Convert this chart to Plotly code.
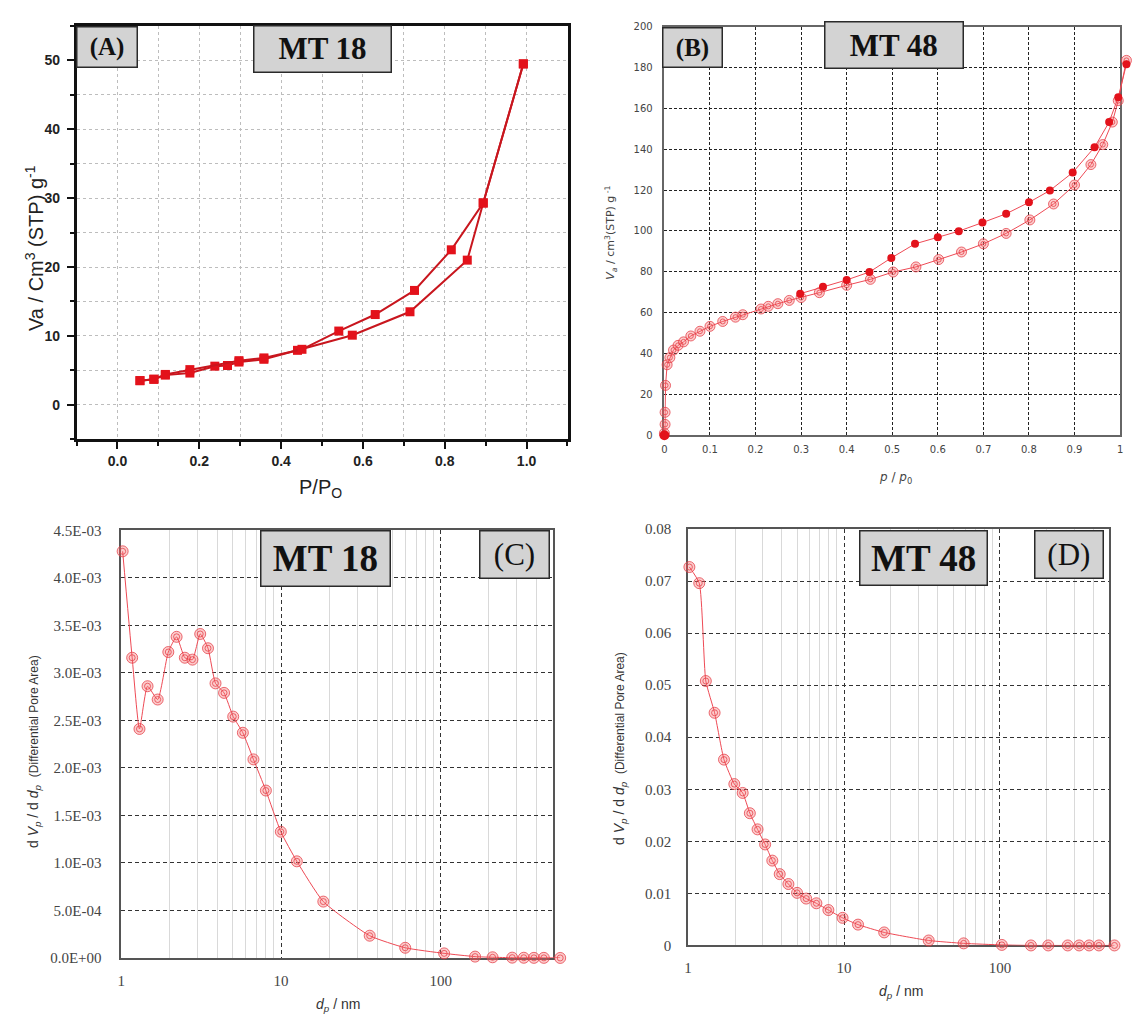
import plotly.graph_objects as go

# ---------------- Panel A : MT 18 N2 isotherm ----------------
a_ads_p = [0.055, 0.089, 0.117, 0.177, 0.238, 0.269, 0.297, 0.358, 0.440, 0.574, 0.715, 0.855, 0.894, 0.992]
a_ads_v = [3.5, 3.7, 4.3, 4.6, 5.6, 5.7, 6.2, 6.6, 7.9, 10.1, 13.5, 21.0, 29.3, 49.5]
a_des_p = [0.992, 0.894, 0.816, 0.726, 0.630, 0.541, 0.451, 0.358, 0.297, 0.177, 0.117, 0.089, 0.055]
a_des_v = [49.5, 29.3, 22.5, 16.6, 13.1, 10.7, 8.05, 6.8, 6.4, 5.1, 4.4, 3.7, 3.5]

# ---------------- Panel B : MT 48 N2 isotherm ----------------
b_ads_p = [0.0, 0.0015, 0.0015, 0.0025, 0.006, 0.012, 0.02, 0.03, 0.042, 0.058, 0.078, 0.10, 0.128,
           0.156, 0.172, 0.212, 0.228, 0.249, 0.274, 0.30, 0.34, 0.40, 0.452, 0.502, 0.552, 0.602,
           0.652, 0.70, 0.75, 0.802, 0.854, 0.90, 0.936, 0.962, 0.983, 0.996, 1.014]
b_ads_v = [1.0, 5.3, 11.2, 24.4, 34.5, 38.0, 41.7, 44.0, 45.7, 48.6, 50.9, 53.3, 55.7,
           57.8, 59.0, 61.8, 63.1, 64.4, 66.0, 67.4, 69.8, 73.4, 76.3, 79.9, 82.4, 86.0,
           89.7, 93.7, 98.8, 105.4, 113.2, 122.5, 132.5, 142.3, 153.3, 163.8, 183.5]
b_des_p = [1.014, 0.996, 0.976, 0.944, 0.896, 0.846, 0.80, 0.75, 0.698, 0.646, 0.60, 0.55,
           0.498, 0.45, 0.40, 0.348, 0.298]
b_des_v = [181.6, 165.5, 153.3, 141.0, 128.6, 119.8, 114.0, 108.4, 104.1, 99.9, 96.9, 93.7,
           86.8, 79.9, 76.0, 72.7, 69.3]
b_start_p = [0.0]
b_start_v = [0.0]

# ---------------- Panel C : MT 18 pore size distribution ----------------
c_dp = [1.02, 1.17, 1.30, 1.46, 1.69, 1.97, 2.22, 2.50, 2.79, 3.12, 3.49, 3.89, 4.40, 5.02, 5.77,
        6.72, 8.04, 9.97, 12.56, 18.4, 35.9, 59.9, 105, 164, 211, 280, 331, 383, 442, 559]
c_dv = [4.28e-3, 3.16e-3, 2.41e-3, 2.86e-3, 2.72e-3, 3.22e-3, 3.38e-3, 3.16e-3, 3.14e-3, 3.41e-3,
        3.26e-3, 2.89e-3, 2.79e-3, 2.54e-3, 2.37e-3, 2.09e-3, 1.762e-3, 1.328e-3, 1.017e-3, 0.593e-3,
        0.234e-3, 0.107e-3, 0.048e-3, 0.014e-3, 0.007e-3, 0.003e-3, 0.002e-3, 0.001e-3, 0.001e-3, 0.0]
c_ytickvals = [0, 0.5e-3, 1.0e-3, 1.5e-3, 2.0e-3, 2.5e-3, 3.0e-3, 3.5e-3, 4.0e-3, 4.5e-3]
c_yticktext = ["0.0E+00", "5.0E-04", "1.0E-03", "1.5E-03", "2.0E-03", "2.5E-03",
               "3.0E-03", "3.5E-03", "4.0E-03", "4.5E-03"]

# ---------------- Panel D : MT 48 pore size distribution ----------------
d_dp = [1.02, 1.18, 1.30, 1.48, 1.70, 1.98, 2.24, 2.49, 2.79, 3.12, 3.47, 3.87, 4.40, 5.0, 5.72,
        6.65, 7.94, 9.79, 12.3, 18.1, 34.9, 58.5, 102.8, 158, 204, 272, 322, 373, 431, 542]
d_dv = [0.0727, 0.0696, 0.0508, 0.0447, 0.0357, 0.0310, 0.0293, 0.0254, 0.0223, 0.0194, 0.0163,
        0.0137, 0.0118, 0.0101, 0.0090, 0.0081, 0.0068, 0.0053, 0.0040, 0.0025, 0.00095, 0.0004,
        0.0001, 0.0, 0.0, 0.0, 0.0, 0.0, 0.0, 0.0]

W, H = 1135, 1025


def px(x):
    return x / W


def py(y):
    return 1 - y / H


# frame pixel positions of the four panels (left, right, top, bottom)
A_L, A_R, A_T, A_B = 73, 567, 18.3, 438
B_L, B_R, B_T, B_B = 664.5, 1123, 19, 434
C_L, C_R, C_T, C_B = 118, 552, 530.7, 965
D_L, D_R, D_T, D_B = 688.3, 1112, 529.3, 952.3

# data axes that reach a little past the frame, so points just beyond it stay visible
B_EXT, C_EXT, D_EXT = 1134, 566, 1126
b_xmax = 1.0 * (B_EXT - B_L) / (B_R - B_L)
c_xmax = 2.7 * (C_EXT - C_L) / (C_R - C_L)
d_xmax = 2.7 * (D_EXT - D_L) / (D_R - D_L)

RED = "#e3121b"
DARKRED = "#c8161e"
PINK_LINE = "#ee4a55"
RING_FILL = "rgba(245,110,110,0.35)"
RING_LINE = "rgba(228,60,70,0.75)"

fig = go.Figure()

# empty placeholder traces so that the framed B, C and D axes get drawn
for xa, ya in (("x2", "y2"), ("x3", "y3"), ("x4", "y4")):
    fig.add_trace(go.Scatter(x=[None], y=[None], mode="markers", xaxis=xa, yaxis=ya,
                             showlegend=False, hoverinfo="skip"))

# Panel A traces
fig.add_trace(go.Scatter(x=a_ads_p, y=a_ads_v, mode="lines+markers", xaxis="x", yaxis="y",
                         line=dict(color=DARKRED, width=2),
                         marker=dict(symbol="square", size=9, color=RED), cliponaxis=False,
                         name="Adsorption MT 18"))
fig.add_trace(go.Scatter(x=a_des_p, y=a_des_v, mode="lines+markers", xaxis="x", yaxis="y",
                         line=dict(color=DARKRED, width=2),
                         marker=dict(symbol="square", size=9, color=RED), cliponaxis=False,
                         name="Desorption MT 18"))

# Panel B traces (data axes x5/y5)
fig.add_trace(go.Scatter(x=b_ads_p, y=b_ads_v, mode="lines+markers", xaxis="x5", yaxis="y5",
                         line=dict(color=PINK_LINE, width=1),
                         marker=dict(symbol="circle", size=10, color=RING_FILL,
                                     line=dict(color=RING_LINE, width=1)),
                         cliponaxis=False, name="Adsorption MT 48"))
fig.add_trace(go.Scatter(x=b_ads_p, y=b_ads_v, mode="markers", xaxis="x5", yaxis="y5",
                         marker=dict(symbol="circle-open", size=5, color=RING_LINE,
                                     line=dict(width=1)),
                         cliponaxis=False, showlegend=False, hoverinfo="skip"))
fig.add_trace(go.Scatter(x=b_des_p, y=b_des_v, mode="lines+markers", xaxis="x5", yaxis="y5",
                         line=dict(color=PINK_LINE, width=1),
                         marker=dict(symbol="circle", size=8, color=RED),
                         cliponaxis=False, name="Desorption MT 48"))
fig.add_trace(go.Scatter(x=b_start_p, y=b_start_v, mode="markers", xaxis="x5", yaxis="y5",
                         marker=dict(symbol="circle", size=10, color=RED),
                         cliponaxis=False, showlegend=False))

# Panel C traces (data axes x6/y6)
fig.add_trace(go.Scatter(x=c_dp, y=c_dv, mode="lines+markers", xaxis="x6", yaxis="y6",
                         line=dict(color=PINK_LINE, width=1, shape="spline", smoothing=0.5),
                         marker=dict(symbol="circle", size=11, color=RING_FILL,
                                     line=dict(color=RING_LINE, width=1)),
                         cliponaxis=False, name="PSD MT 18"))
fig.add_trace(go.Scatter(x=c_dp, y=c_dv, mode="markers", xaxis="x6", yaxis="y6",
                         marker=dict(symbol="circle-open", size=6, color=RING_LINE,
                                     line=dict(width=1)),
                         cliponaxis=False, showlegend=False, hoverinfo="skip"))

# Panel D traces (data axes x7/y7)
fig.add_trace(go.Scatter(x=d_dp, y=d_dv, mode="lines+markers", xaxis="x7", yaxis="y7",
                         line=dict(color=PINK_LINE, width=1, shape="spline", smoothing=0.5),
                         marker=dict(symbol="circle", size=11, color=RING_FILL,
                                     line=dict(color=RING_LINE, width=1)),
                         cliponaxis=False, name="PSD MT 48"))
fig.add_trace(go.Scatter(x=d_dp, y=d_dv, mode="markers", xaxis="x7", yaxis="y7",
                         marker=dict(symbol="circle-open", size=6, color=RING_LINE,
                                     line=dict(width=1)),
                         cliponaxis=False, showlegend=False, hoverinfo="skip"))

# ---------- axes ----------
a_tickfont = dict(family="Liberation Sans", size=14, color="#222", weight="bold")
a_grid = dict(showgrid=True, gridcolor="#bdbdbd", griddash="dot", gridwidth=1)
b_tickfont = dict(family="DejaVu Sans", size=10, color="#444")
cd_tickfont = dict(family="Liberation Serif", size=15, color="#444")
dash_grid = dict(showgrid=True, gridcolor="#333", griddash="4px,3px", gridwidth=1.2)
log_minor = dict(dtick="D1", showgrid=True, gridcolor="#d9d9d9", gridwidth=1, griddash="solid")
hidden = dict(visible=False, showgrid=False, zeroline=False, fixedrange=True)

fig.update_layout(
    width=W, height=H, margin=dict(l=0, r=0, t=0, b=0),
    paper_bgcolor="white", plot_bgcolor="rgba(0,0,0,0)", showlegend=False,
    xaxis=dict(domain=[px(A_L), px(A_R)], anchor="y", range=[-0.1, 1.1], tick0=0, dtick=0.2,
               tickformat=".1f", ticks="outside", ticklen=7, tickwidth=2, tickcolor="#111",
               showline=True, linecolor="#111", linewidth=2.5, mirror=True, zeroline=False,
               tickfont=a_tickfont, ticklabelstandoff=0, **a_grid,
               minor=dict(dtick=0.1, ticks="outside", ticklen=4, tickwidth=1.5, tickcolor="#111",
                          showgrid=True, gridcolor="#bdbdbd", griddash="dot", gridwidth=1)),
    yaxis=dict(domain=[py(A_B), py(A_T)], anchor="x", range=[-5, 55], tick0=0, dtick=10,
               ticks="outside", ticklen=7, tickwidth=2, tickcolor="#111",
               showline=True, linecolor="#111", linewidth=2.5, mirror=True, zeroline=False,
               tickfont=a_tickfont, ticklabelstandoff=4, **a_grid,
               minor=dict(dtick=5, ticks="outside", ticklen=4, tickwidth=1.5, tickcolor="#111",
                          showgrid=True, gridcolor="#bdbdbd", griddash="dot", gridwidth=1)),
    # Panel B frame axes
    xaxis2=dict(domain=[px(B_L), px(B_R)], anchor="y2", range=[0, 1], dtick=0.1,
                showline=True, linecolor="#666", linewidth=1.5, mirror=True, zeroline=False,
                ticks="", tickfont=b_tickfont, ticklabelstandoff=4, showgrid=True,
                gridcolor="#222", griddash="3px,2px", gridwidth=1.3),
    yaxis2=dict(domain=[py(B_B), py(B_T)], anchor="x2", range=[0, 200], dtick=20,
                showline=True, linecolor="#666", linewidth=1.5, mirror=True, zeroline=False,
                ticks="", tickfont=b_tickfont, ticklabelstandoff=8, showgrid=True,
                gridcolor="#222", griddash="3px,2px", gridwidth=1.3),
    xaxis5=dict(domain=[px(B_L), px(B_EXT)], anchor="y5", range=[0, b_xmax], **hidden),
    yaxis5=dict(domain=[py(B_B), py(B_T)], anchor="x5", range=[0, 200], **hidden),
    # Panel C frame axes
    xaxis3=dict(domain=[px(C_L), px(C_R)], anchor="y3", type="log", range=[0, 2.7], dtick=1,
                showline=True, linecolor="#555", linewidth=1.5, mirror=True, zeroline=False,
                ticks="", tickfont=cd_tickfont, ticklabelstandoff=8, **dash_grid,
                minor=log_minor),
    yaxis3=dict(domain=[py(C_B), py(C_T)], anchor="x3", range=[0, 0.0045],
                tickvals=c_ytickvals, ticktext=c_yticktext,
                showline=True, linecolor="#555", linewidth=1.5, mirror=True, zeroline=False,
                ticks="", tickfont=cd_tickfont, ticklabelstandoff=15, **dash_grid),
    xaxis6=dict(domain=[px(C_L), px(C_EXT)], anchor="y6", type="log", range=[0, c_xmax], **hidden),
    yaxis6=dict(domain=[py(C_B), py(C_T)], anchor="x6", range=[0, 0.0045], **hidden),
    # Panel D frame axes
    xaxis4=dict(domain=[px(D_L), px(D_R)], anchor="y4", type="log", range=[0, 2.7], dtick=1,
                showline=True, linecolor="#555", linewidth=1.5, mirror=True, zeroline=False,
                ticks="", tickfont=cd_tickfont, ticklabelstandoff=8, **dash_grid,
                minor=log_minor),
    yaxis4=dict(domain=[py(D_B), py(D_T)], anchor="x4", range=[0, 0.08], dtick=0.01,
                showline=True, linecolor="#555", linewidth=1.5, mirror=True, zeroline=False,
                ticks="", tickfont=cd_tickfont, ticklabelstandoff=12, **dash_grid),
    xaxis7=dict(domain=[px(D_L), px(D_EXT)], anchor="y7", type="log", range=[0, d_xmax], **hidden),
    yaxis7=dict(domain=[py(D_B), py(D_T)], anchor="x7", range=[0, 0.08], **hidden),
)

# ---------- axis titles (as positioned annotations) ----------
ann = []


def title(text, x, y, size, family="Liberation Sans", color="#222", angle=0):
    ann.append(dict(text=text, x=px(x), y=py(y), xref="paper", yref="paper",
                    showarrow=False, textangle=angle, xanchor="center", yanchor="middle",
                    font=dict(family=family, size=size, color=color)))


title("Va / Cm<sup>3</sup> (STP) g<sup>-1</sup>", 30, 244, 20, angle=-90)
title("P/P<sub>O</sub>", 318, 488, 20)
title("<i>V</i><sub><i>a</i></sub> / cm<sup>3</sup>(STP) g<sup> -1</sup>", 611, 228, 11,
      family="DejaVu Sans", color="#444", angle=-90)
title("<i>p</i> / <i>p</i><sub>0</sub>", 897, 477, 12, family="DejaVu Sans", color="#444")
psd_title = ("d <i>V</i><sub><i>p</i></sub> / d <i>d</i><sub><i>p</i></sub>  "
             "<span style='font-size:12px'>(Differential Pore Area)</span>")
title(psd_title, 30, 755, 14, color="#333", angle=-90)
title(psd_title, 620.5, 752, 14, color="#333", angle=-90)
title("<i>d</i><sub><i>p</i></sub> / nm", 336, 1013, 14, color="#333")
title("<i>d</i><sub><i>p</i></sub> / nm", 903, 1000, 14, color="#333")


# ---------- labelled boxes ----------
def box(text, x0, x1, y0, y1, size, bold=True):
    ann.append(dict(text=f"<b>{text}</b>" if bold else text,
                    x=px((x0 + x1) / 2), y=py((y0 + y1) / 2), xref="paper", yref="paper",
                    showarrow=False, xanchor="center", yanchor="middle",
                    width=x1 - x0 - 3, height=y1 - y0 - 3, borderpad=0,
                    bgcolor="#d3d3d3", bordercolor="#2a2a2a", borderwidth=1.5,
                    font=dict(family="Liberation Serif", size=size, color="#111")))


box("(A)", 73, 135, 18.3, 60, 25)
box("MT 18", 251, 390, 18.3, 66, 31)
box("(B)", 662, 723, 20, 61, 25)
box("MT 48", 825.5, 965, 13.3, 61.7, 31)
box("MT 18", 258, 388.6, 530.7, 587.7, 37)
box("(C)", 478, 549, 530.7, 580, 31, bold=False)
box("MT 48", 860.7, 990, 530.7, 586.7, 37)
box("(D)", 1036.7, 1106.4, 530.7, 579.3, 31, bold=False)

fig.update_layout(annotations=ann)

fig.write_html("out.html")
